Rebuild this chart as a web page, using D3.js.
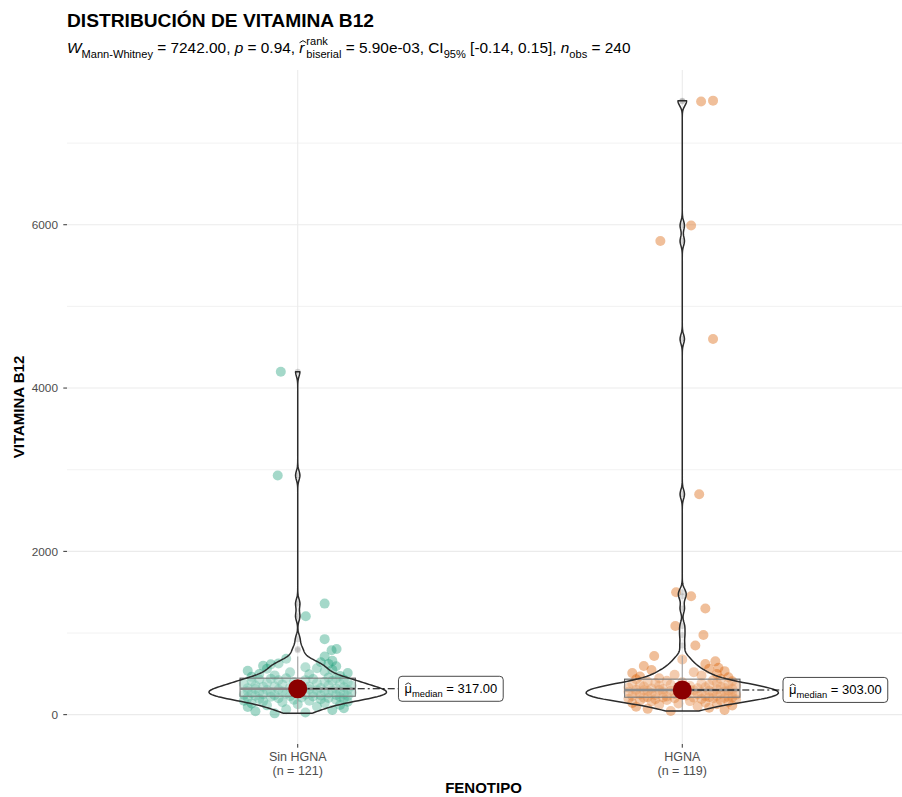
<!DOCTYPE html>
<html>
<head>
<meta charset="utf-8">
<script src="https://cdn.jsdelivr.net/npm/d3@7"></script>
<style>
  body { margin: 0; background: #fff; }
  svg { display: block; }
  text { font-family: "Liberation Sans", Arial, Helvetica, sans-serif; white-space: pre; }
</style>
</head>
<body>
<svg id="chart" width="902" height="797"></svg>
<script>
// ---- data -------------------------------------------------------------
const categories = ["Sin HGNA", "HGNA"];

// Vitamin B12 per patient, phenotype "Sin HGNA"
const sinHGNA = [
  16, 27, 41, 58, 66, 79, 93, 101, 114, 119,
  127, 138, 141, 152, 158, 163, 170, 171, 179, 184,
  189, 193, 195, 201, 205, 209, 211, 217, 219, 224,
  226,
  228, 233, 234, 239, 242, 245, 246, 251, 255, 257,
  260, 263, 266, 270, 272, 276, 279, 281, 284, 288,
  290, 293, 296, 299, 302, 305, 308, 311, 314,
  317,
  319, 325, 327, 333, 335, 341, 345, 347, 353, 357,
  361, 364, 371, 376, 379, 386, 389, 394, 401, 404,
  411, 414, 421, 423, 429, 431, 437, 441, 444,
  447,
  456, 463, 475, 481, 494, 499, 511, 518, 532, 538,
  549, 562, 568, 581, 592, 598, 616, 622, 628, 641,
  659, 684, 712,
  790, 805, 925, 1205, 1360, 2930, 4200
];

// Vitamin B12 per patient, phenotype "HGNA"
const hgna = [
  44, 58, 71, 86, 97, 104, 112, 121, 129, 136,
  143, 149, 155, 161, 166, 172, 176, 181, 185, 189,
  193, 196, 199, 202, 205, 207, 209, 211, 212, 213,
  215,
  218, 222, 225, 229, 233, 236, 240, 243, 247, 250,
  254, 257, 261, 264, 268, 271, 274, 277, 280, 283,
  286, 289, 292, 294, 296, 298, 300, 301,
  303,
  306, 310, 313, 317, 321, 324, 328, 331, 335, 339,
  342, 346, 350, 354, 358, 362, 366, 370, 374, 379,
  383, 388, 392, 397, 402, 408, 414, 421, 433,
  437,
  446, 458, 467, 479, 488, 497, 509, 521, 533, 546,
  561, 575, 597, 621, 653, 677, 718,
  848, 975, 1085, 1300, 1450, 1500, 2700, 4600, 5800, 5990, 7510, 7520
];

// horizontal jitter of each point, as a fraction of the category step
const jitterSinHGNA = [
  -0.06, 0.02, -0.11, 0.09, -0.03, 0.12, -0.13, 0.05, -0.08, 0.11,
  0.00, -0.12, 0.07, -0.04, 0.13, -0.09, 0.03, -0.14, 0.10, -0.01,
  0.06, -0.10, 0.12, -0.05, 0.08, -0.13, 0.01, 0.11, -0.07, 0.04,
  -0.02,
  0.13, -0.11, 0.06, -0.06, 0.10, -0.14, 0.02, -0.09, 0.12, -0.03,
  0.08, -0.12, 0.04, 0.14, -0.07, 0.00, -0.10, 0.11, -0.04, 0.07,
  -0.13, 0.09, -0.01, 0.05, -0.08, 0.13, -0.05, 0.03, -0.11,
  0.01,
  0.10, -0.13, 0.06, -0.02, 0.12, -0.09, 0.03, -0.06, 0.14, -0.11,
  0.08, 0.00, -0.04, 0.11, -0.14, 0.05, -0.08, 0.13, -0.01, 0.07,
  -0.12, 0.09, -0.05, 0.02, 0.12, -0.10, 0.04, -0.07, 0.10,
  -0.03,
  0.08, -0.12, 0.11, -0.06, 0.03, -0.10, 0.13, -0.02, 0.07, -0.13,
  0.09, -0.08, 0.05, 0.02, 0.10, -0.09, -0.07, 0.08, -0.05, 0.06,
  0.09, -0.03, 0.07,
  0.088, 0.101, 0.070, 0.021, 0.070, -0.052, -0.044
];
const jitterHGNA = [
  -0.03, 0.11, -0.09, 0.07, -0.12, 0.04, 0.13, -0.06, 0.09, -0.01,
  -0.13, 0.06, 0.12, -0.08, 0.02, -0.11, 0.10, -0.04, 0.14, -0.07,
  0.05, -0.14, 0.08, -0.02, 0.11, -0.10, 0.03, 0.13, -0.05, 0.07,
  -0.09,
  0.12, -0.04, 0.06, -0.13, 0.09, 0.01, -0.07, 0.14, -0.11, 0.04,
  -0.02, 0.10, -0.08, 0.13, -0.12, 0.05, -0.05, 0.08, -0.14, 0.11,
  0.00, -0.09, 0.07, -0.03, 0.12, -0.10, 0.03, -0.06,
  0.02,
  -0.12, 0.09, -0.05, 0.13, -0.08, 0.04, 0.11, -0.14, 0.06, -0.01,
  0.10, -0.10, 0.02, -0.06, 0.14, -0.11, 0.07, -0.03, 0.12, -0.13,
  0.05, -0.07, 0.09, 0.00, -0.09, 0.13, -0.04, 0.08, -0.12,
  0.10,
  -0.06, 0.12, -0.11, 0.05, -0.02, 0.09, -0.13, 0.03, 0.11, -0.08,
  0.07, 0.094, -0.10, 0.06, 0.086, 0.00, -0.073,
  0.034, 0.055, -0.018, 0.06, 0.023, -0.016, 0.044, 0.08, -0.057, 0.023, 0.049, 0.08
];

const groupValues = [sinHGNA, hgna];
const groupJitter = [jitterSinHGNA, jitterHGNA];
const groupColors = ["#1B9E77", "#D95F02"];

const yTicks = [0, 2000, 4000, 6000];
const yMinorTicks = [1000, 3000, 5000, 7000];

const titleText = "DISTRIBUCIÓN DE VITAMINA B12";
const xTitle = "FENOTIPO";
const yTitle = "VITAMINA B12";

// ---- layout -----------------------------------------------------------
const svg = d3.select("#chart");
const panel = { left: 67, right: 913, top: 70, bottom: 744 };

const x = d3.scalePoint().domain(categories).range([panel.left, panel.right]).padding(0.6);
const step = x.step();

const allVals = sinHGNA.concat(hgna);
const [vMin, vMax] = d3.extent(allVals);
const vPad = 0.05 * (vMax - vMin);
const y = d3.scaleLinear().domain([vMin - vPad, vMax + vPad]).range([panel.bottom, panel.top]);

// ---- grid -------------------------------------------------------------
const grid = svg.append("g");
grid.selectAll(".ymin").data(yMinorTicks).join("line")
  .attr("x1", panel.left).attr("x2", panel.right)
  .attr("y1", d => y(d)).attr("y2", d => y(d))
  .attr("stroke", "#efefef").attr("stroke-width", 0.8);
grid.selectAll(".ymaj").data(yTicks).join("line")
  .attr("x1", panel.left).attr("x2", panel.right)
  .attr("y1", d => y(d)).attr("y2", d => y(d))
  .attr("stroke", "#ebebeb").attr("stroke-width", 1.1);
grid.selectAll(".xmaj").data(categories).join("line")
  .attr("x1", d => x(d)).attr("x2", d => x(d))
  .attr("y1", panel.top).attr("y2", panel.bottom)
  .attr("stroke", "#ebebeb").attr("stroke-width", 1.1);

// ---- axes -------------------------------------------------------------
const yAxis = svg.append("g");
yAxis.selectAll("line").data(yTicks).join("line")
  .attr("x1", panel.left - 3.7).attr("x2", panel.left)
  .attr("y1", d => y(d)).attr("y2", d => y(d))
  .attr("stroke", "#333").attr("stroke-width", 1);
yAxis.selectAll("text").data(yTicks).join("text")
  .attr("x", panel.left - 9).attr("y", d => y(d)).attr("dy", "0.36em")
  .attr("text-anchor", "end").attr("font-size", 11.8).attr("fill", "#4d4d4d")
  .text(d => d);

const xAxis = svg.append("g");
xAxis.selectAll("line").data(categories).join("line")
  .attr("x1", d => x(d)).attr("x2", d => x(d))
  .attr("y1", panel.bottom).attr("y2", panel.bottom + 3.7)
  .attr("stroke", "#333").attr("stroke-width", 1);
categories.forEach((c, i) => {
  const t = xAxis.append("text").attr("text-anchor", "middle")
    .attr("font-size", 12.5).attr("fill", "#4d4d4d");
  t.append("tspan").attr("x", x(c)).attr("y", 761).text(c);
  t.append("tspan").attr("x", x(c)).attr("y", 775).text(`(n = ${groupValues[i].length})`);
});

svg.append("text").attr("x", (panel.left + 900) / 2).attr("y", 793)
  .attr("text-anchor", "middle").attr("font-size", 15).attr("font-weight", "bold")
  .text(xTitle);
svg.append("text").attr("transform", `translate(24,${(panel.top + panel.bottom) / 2}) rotate(-90)`)
  .attr("text-anchor", "middle").attr("font-size", 15).attr("font-weight", "bold")
  .text(yTitle);

// ---- title and subtitle -------------------------------------------------
svg.append("text").attr("x", 67).attr("y", 27)
  .attr("font-size", 19.2).attr("font-weight", "bold").text(titleText);

// lays out a run of text pieces with sub/superscripts and hats
function richText(g, x0, y0, parts, base) {
  let cx = x0;
  const small = base * 0.72;
  parts.forEach(p => {
    if (p.sup !== undefined) {
      cx += base * 0.12;
      const a = g.append("text").attr("x", cx).attr("y", y0 - base * 0.5).attr("font-size", small).text(p.sup);
      const b = g.append("text").attr("x", cx).attr("y", y0 + base * 0.3).attr("font-size", small).text(p.sub);
      cx += Math.max(a.node().getComputedTextLength(), b.node().getComputedTextLength());
    } else if (p.sub !== undefined) {
      const b = g.append("text").attr("x", cx).attr("y", y0 + base * 0.3).attr("font-size", small).text(p.sub);
      cx += b.node().getComputedTextLength();
    } else {
      const t = g.append("text").attr("x", cx).attr("y", y0).attr("font-size", base)
        .attr("font-style", p.it ? "italic" : null).text(p.t);
      const w = t.node().getComputedTextLength();
      if (p.hat) {
        // circumflex drawn as a small stroked chevron over the glyph
        const hx = cx + w / 2 + (p.it ? base * 0.07 : 0);
        const hy = y0 - base * 0.8;
        const hw = base * 0.22, hh = base * 0.13;
        g.append("path")
          .attr("d", `M${hx - hw},${hy + hh}L${hx},${hy}L${hx + hw},${hy + hh}`)
          .attr("fill", "none").attr("stroke", "#000").attr("stroke-width", base * 0.06);
      }
      cx += w;
    }
  });
  return cx - x0;
}

const subtitle = svg.append("g");
richText(subtitle, 67, 53, [
  { t: "W", it: true }, { sub: "Mann-Whitney" }, { t: " = 7242.00, " },
  { t: "p", it: true }, { t: " = 0.94, " },
  { t: "r", it: true, hat: true }, { sup: "rank", sub: "biserial" }, { t: " = 5.90e-03, CI" },
  { sub: "95%" }, { t: " [-0.14, 0.15], " },
  { t: "n", it: true }, { sub: "obs" }, { t: " = 240" }
], 15.4);

// ---- jittered points ----------------------------------------------------
const plot = svg.append("g");
categories.forEach((c, i) => {
  const pts = groupValues[i].map((v, k) => ({ v, j: groupJitter[i][k] }));
  plot.append("g").selectAll("circle").data(pts).join("circle")
    .attr("cx", d => x(c) + d.j * step)
    .attr("cy", d => y(d.v))
    .attr("r", 5)
    .attr("fill", groupColors[i]).attr("fill-opacity", 0.4);
});

// ---- box plots ----------------------------------------------------------
const stats = groupValues.map(vals => {
  const s = vals.slice().sort(d3.ascending);
  const q1 = d3.quantile(s, 0.25), med = d3.quantile(s, 0.5), q3 = d3.quantile(s, 0.75);
  const iqr = q3 - q1;
  const lo = d3.min(s.filter(v => v >= q1 - 1.5 * iqr));
  const hi = d3.max(s.filter(v => v <= q3 + 1.5 * iqr));
  const out = s.filter(v => v < lo || v > hi);
  return { s, q1, med, q3, iqr, lo, hi, out };
});

const boxHalf = 0.15 * step;
categories.forEach((c, i) => {
  const st = stats[i], cx = x(c);
  const g = plot.append("g");
  g.append("line").attr("x1", cx).attr("x2", cx).attr("y1", y(st.q3)).attr("y2", y(st.hi))
    .attr("stroke", "#8c8c8c").attr("stroke-width", 1.1);
  g.append("line").attr("x1", cx).attr("x2", cx).attr("y1", y(st.q1)).attr("y2", y(st.lo))
    .attr("stroke", "#8c8c8c").attr("stroke-width", 1.1);
  g.append("rect").attr("x", cx - boxHalf).attr("width", 2 * boxHalf)
    .attr("y", y(st.q3)).attr("height", y(st.q1) - y(st.q3))
    .attr("fill", "#fff").attr("fill-opacity", 0.2)
    .attr("stroke", "#595959").attr("stroke-width", 1.1);
  g.append("line").attr("x1", cx - boxHalf).attr("x2", cx + boxHalf)
    .attr("y1", y(st.med)).attr("y2", y(st.med))
    .attr("stroke", "#6e6e6e").attr("stroke-width", 2.6);
  g.selectAll("circle").data(st.out).join("circle")
    .attr("cx", cx).attr("cy", d => y(d)).attr("r", 3)
    .attr("fill", "#333").attr("fill-opacity", 0.2);
});

// ---- violins (Gaussian kernel density, Silverman bandwidth) --------------
function bwNrd0(s) {
  const sd = d3.deviation(s);
  const iqr = d3.quantile(s, 0.75) - d3.quantile(s, 0.25);
  return 0.9 * Math.min(sd, iqr / 1.34) * Math.pow(s.length, -0.2);
}
const densities = stats.map(st => {
  const bw = bwNrd0(st.s);
  const lo = st.s[0], hi = st.s[st.s.length - 1];
  const n = 512;
  const norm = 1 / (st.s.length * bw * Math.sqrt(2 * Math.PI));
  return d3.range(n).map(k => {
    const t = lo + (hi - lo) * k / (n - 1);
    let acc = 0;
    for (const v of st.s) { const u = (t - v) / bw; acc += Math.exp(-0.5 * u * u); }
    return { t, d: acc * norm };
  });
});
const dMax = d3.max(densities, ds => d3.max(ds, p => p.d));
const violinHalf = 0.25 * step;

categories.forEach((c, i) => {
  const cx = x(c);
  const area = d3.area()
    .x0(p => cx - p.d / dMax * violinHalf)
    .x1(p => cx + p.d / dMax * violinHalf)
    .y(p => y(p.t));
  plot.append("path").datum(densities[i]).attr("d", area)
    .attr("fill", "#fff").attr("fill-opacity", 0.2)
    .attr("stroke", "#2b2b2b").attr("stroke-width", 1.5).attr("stroke-linejoin", "round");
});

// ---- medians with labels ------------------------------------------------
categories.forEach((c, i) => {
  const st = stats[i], cx = x(c), my = y(st.med);
  const labelLeft = cx + 0.262 * step;
  plot.append("line").attr("x1", cx).attr("x2", labelLeft).attr("y1", my).attr("y2", my)
    .attr("stroke", "#000").attr("stroke-width", 1.1).attr("stroke-dasharray", "7,3,2,3");
  plot.append("circle").attr("cx", cx).attr("cy", my).attr("r", 9.5).attr("fill", "#8B0000");

  const lab = plot.append("g");
  const rect = lab.append("rect");
  const w = richText(lab, labelLeft + 6, my + 4.5, [
    { t: "\u03BC", hat: true }, { sub: "median" }, { t: ` = ${st.med.toFixed(2)}` }
  ], 13);
  rect.attr("x", labelLeft).attr("y", my - 12.5).attr("width", w + 12).attr("height", 25)
    .attr("rx", 3.5).attr("fill", "#fff").attr("stroke", "#333").attr("stroke-width", 0.9);
});
</script>
</body>
</html>
